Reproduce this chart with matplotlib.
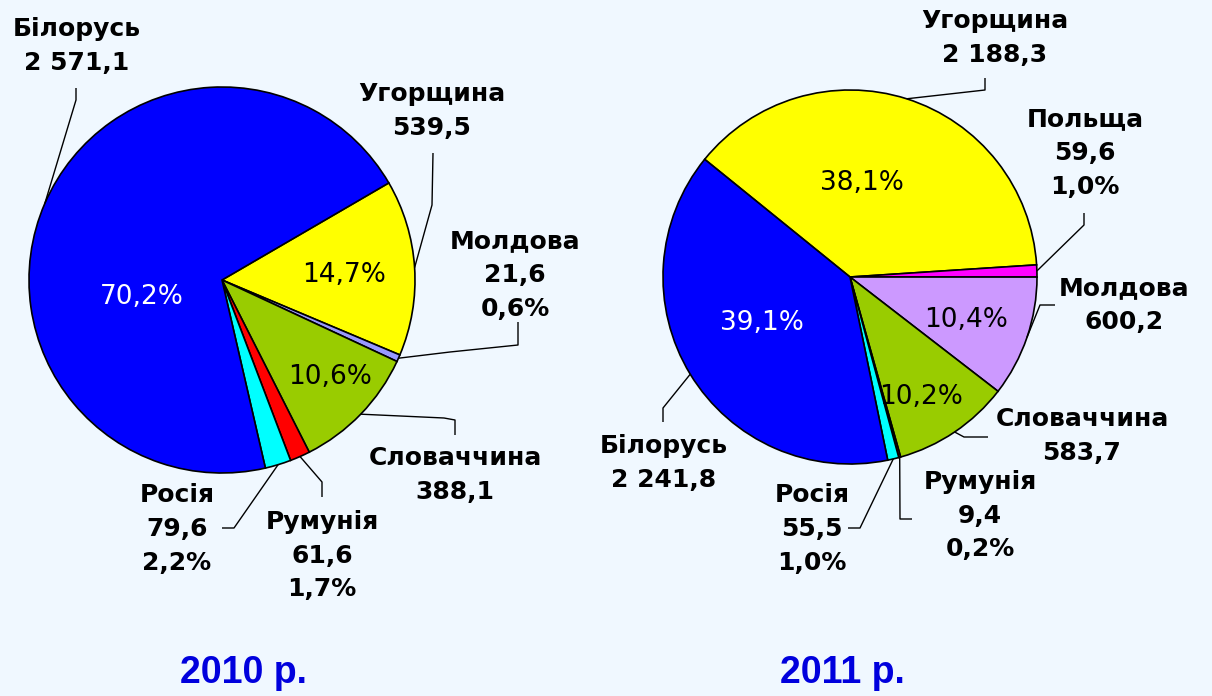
import numpy as np
import matplotlib.pyplot as plt

# ---- data ----
countries_2010 = ["Угорщина", "Молдова", "Словаччина", "Румунія", "Росія", "Білорусь"]
values_2010 = [539.5, 21.6, 388.1, 61.6, 79.6, 2571.1]
shares_2010 = [14.7, 0.6, 10.6, 1.7, 2.2, 70.2]
colors_2010 = ["#FFFF00", "#9999FF", "#99CC00", "#FF0000", "#00FFFF", "#0000FF"]

countries_2011 = ["Угорщина", "Польща", "Молдова", "Словаччина", "Румунія", "Росія", "Білорусь"]
values_2011 = [2188.3, 59.6, 600.2, 583.7, 9.4, 55.5, 2241.8]
shares_2011 = [38.1, 1.0, 10.4, 10.2, 0.2, 1.0, 39.1]
colors_2011 = ["#FFFF00", "#FF00FF", "#CC99FF", "#99CC00", "#FF0000", "#00FFFF", "#0000FF"]

years = ["2010 р.", "2011 р."]

# ---- layout (image pixel coords, y down) ----
W, H = 1212, 696
BG = "#F0F8FF"


def P(x, y):
    return x, H - y


def num(v):
    return f"{v:,.1f}".replace(",", " ").replace(".", ",")


def pct(v):
    return f"{v:.1f}%".replace(".", ",")


# per slice: label centre, pct shown outside?, leader elbows, inner pct position
layout_2010 = {
    "Угорщина":   dict(lab=(432, 111), pct=False, elbow=[(433, 153), (432, 205)], inner=(344, 275)),
    "Молдова":    dict(lab=(515, 275), pct=True, elbow=[(518, 322), (518, 345), (450, 352)], inner=None),
    "Словаччина": dict(lab=(455, 475), pct=False, elbow=[(455, 435), (455, 420), (444, 418)], inner=(330, 377)),
    "Румунія":    dict(lab=(322, 556), pct=True, elbow=[(322, 497), (322, 482)], inner=None),
    "Росія":      dict(lab=(177, 529), pct=True, elbow=[(222, 528), (234, 528)], inner=None),
    "Білорусь":   dict(lab=(77, 46), pct=False, elbow=[(76, 88), (76, 100)], inner=(142, 297)),
}
layout_2011 = {
    "Угорщина":   dict(lab=(995, 38), pct=False, elbow=[(985, 78), (985, 90)], inner=(862, 183)),
    "Польща":     dict(lab=(1085, 153), pct=True, elbow=[(1084, 213), (1084, 225)], inner=None),
    "Молдова":    dict(lab=(1124, 305), pct=False, elbow=[(1055, 305), (1040, 305)], inner=(966, 320)),
    "Словаччина": dict(lab=(1082, 436), pct=False, elbow=[(988, 437), (964, 437)], inner=(921, 397)),
    "Румунія":    dict(lab=(980, 516), pct=True, elbow=[(912, 519), (900, 519)], inner=None),
    "Росія":      dict(lab=(812, 529), pct=True, elbow=[(848, 528), (860, 528)], inner=None),
    "Білорусь":   dict(lab=(664, 463), pct=False, elbow=[(663, 422), (663, 408)], inner=(762, 323)),
}

pies = [
    dict(names=countries_2010, vals=values_2010, shares=shares_2010, cols=colors_2010,
         center=(222, 280), r=193, start=30.2, lay=layout_2010, year_pos=(243, 673)),
    dict(names=countries_2011, vals=values_2011, shares=shares_2011, cols=colors_2011,
         center=(850, 277), r=187, start=141.0, lay=layout_2011, year_pos=(842, 673)),
]

fig = plt.figure(figsize=(W / 100, H / 100), dpi=100, facecolor=BG)
ax = fig.add_axes([0, 0, 1, 1])

for p in pies:
    cx, cy = P(*p["center"])
    wedges, _ = ax.pie(p["vals"], colors=p["cols"], startangle=p["start"],
                       counterclock=False, center=(cx, cy), radius=p["r"],
                       wedgeprops=dict(edgecolor="black", linewidth=1.2))
    for w, name, v, s, col in zip(wedges, p["names"], p["vals"], p["shares"], p["cols"]):
        lay = p["lay"][name]
        mid = np.radians((w.theta1 + w.theta2) / 2)
        edge = (cx + p["r"] * np.cos(mid), cy + p["r"] * np.sin(mid))
        pts = [P(*e) for e in lay["elbow"]] + [edge]
        xs, ys = zip(*pts)
        ax.plot(xs, ys, color="black", lw=1.0, solid_capstyle="butt")

        text = f"{name}\n{num(v)}"
        if lay["pct"]:
            text += f"\n{pct(s)}"
        lx, ly = P(*lay["lab"])
        ax.text(lx, ly, text, ha="center", va="center", multialignment="center",
                fontsize=18, fontweight="bold", family="DejaVu Sans",
                linespacing=1.5, color="black")

        if lay["inner"] is not None:
            ix, iy = P(*lay["inner"])
            ax.text(ix, iy, pct(s), ha="center", va="center", fontsize=19,
                    family="DejaVu Sans",
                    color="white" if col == "#0000FF" else "black")

for p, yr in zip(pies, years):
    yx, yy = P(*p["year_pos"])
    ax.text(yx, yy, yr, ha="center", va="center", fontsize=27, fontweight="bold",
            family="Liberation Sans", color="#0000DD")

ax.set_xlim(0, W)
ax.set_ylim(0, H)
ax.set_aspect("equal")
ax.axis("off")

fig.savefig("out.png", dpi=100, facecolor=BG)
